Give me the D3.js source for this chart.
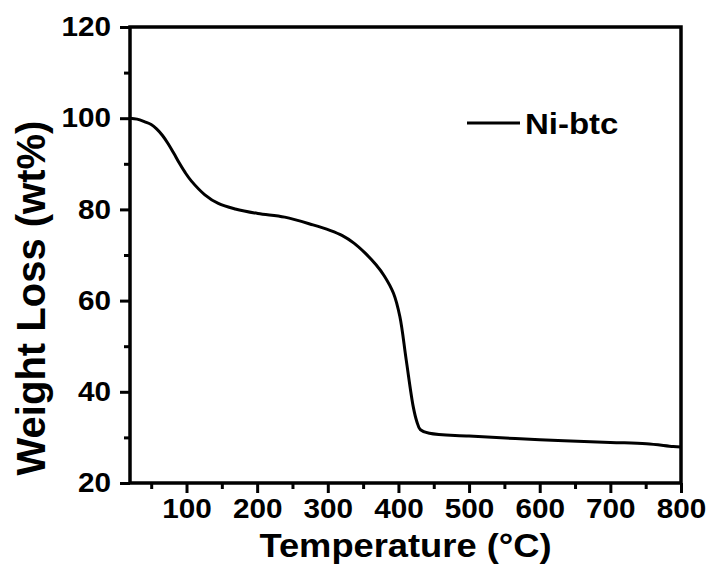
<!DOCTYPE html>
<html>
<head>
<meta charset="utf-8">
<script src="https://cdn.jsdelivr.net/npm/d3@7"></script>
<style>
  body { margin: 0; background: #fff; }
  text { font-family: "Liberation Sans", Arial, sans-serif; font-weight: bold; fill: #000; }
</style>
</head>
<body>
<div id="chart"></div>
<script>
// TGA curve of Ni-btc
const temps   = [20, 30, 41, 50, 58, 66, 74, 82, 90, 98, 107, 126, 145, 169, 201, 239, 279, 303, 320, 337, 353, 368, 380, 393, 402, 411, 421, 426, 431, 444, 500, 600, 700, 751, 789, 800];
const weights = [100, 99.8, 99.2, 98.6, 97.6, 96.2, 94.4, 92.3, 90.1, 88.1, 86.2, 83.2, 81.3, 80.1, 79.1, 78.3, 76.6, 75.4, 74.3, 72.6, 70.4, 67.9, 65.4, 61.6, 56.5, 47, 36.7, 33.5, 31.7, 30.9, 30.3, 29.5, 28.9, 28.6, 28.0, 27.9];
const xTicks = [100, 200, 300, 400, 500, 600, 700, 800];
const xMinor = [50, 150, 250, 350, 450, 550, 650, 750];
const yTicks = [20, 40, 60, 80, 100, 120];
const yMinor = [30, 50, 70, 90, 110];
const seriesName = 'Ni-btc';

const width = 715, height = 578;
const plotL = 130, plotR = 681, plotT = 27, plotB = 483;
const stretch = 1.1; // the picture is a bit wider than tall

const svg = d3.select('#chart').append('svg')
    .attr('width', width)
    .attr('height', height);

const x = d3.scaleLinear().domain([20, 800]).range([plotL, plotR]);
const y = d3.scaleLinear().domain([20, 120]).range([plotB, plotT]);

// minor ticks first
svg.append('g')
    .attr('transform', `translate(0,${plotB})`)
    .call(d3.axisBottom(x).tickValues(xMinor).tickSize(6).tickFormat(''))
    .call(g => g.select('.domain').remove())
    .selectAll('line').attr('stroke-width', 3);
svg.append('g')
    .attr('transform', `translate(${plotL},0)`)
    .call(d3.axisLeft(y).tickValues(yMinor).tickSize(6).tickFormat(''))
    .call(g => g.select('.domain').remove())
    .selectAll('line').attr('stroke-width', 3);

// major x
const gx = svg.append('g')
    .attr('transform', `translate(0,${plotB})`)
    .call(d3.axisBottom(x).tickValues(xTicks).tickSize(10).tickPadding(6))
    .call(g => g.select('.domain').remove());
gx.selectAll('line').attr('stroke-width', 3);
gx.selectAll('text')
    .attr('font-size', 27)
    .attr('font-family', '"Liberation Sans", Arial, sans-serif')
    .attr('font-weight', 'bold')
    .attr('transform', `scale(${stretch},1)`);

// major y
const gy = svg.append('g')
    .attr('transform', `translate(${plotL},0)`)
    .call(d3.axisLeft(y).tickValues(yTicks).tickSize(10))
    .call(g => g.select('.domain').remove());
gy.selectAll('line').attr('stroke-width', 3);
gy.selectAll('text')
    .attr('font-size', 27)
    .attr('font-family', '"Liberation Sans", Arial, sans-serif')
    .attr('font-weight', 'bold')
    .attr('x', -19 / stretch)
    .attr('transform', `scale(${stretch},1)`);

// frame
svg.append('rect')
    .attr('x', plotL).attr('y', plotT)
    .attr('width', plotR - plotL).attr('height', plotB - plotT)
    .attr('fill', 'none').attr('stroke', '#000').attr('stroke-width', 3.5);

// the curve
const line = d3.line()
    .x((d, i) => x(temps[i]))
    .y(d => y(d))
    .curve(d3.curveCatmullRom.alpha(0.5));
svg.append('path')
    .datum(weights)
    .attr('d', line)
    .attr('fill', 'none')
    .attr('stroke', '#000')
    .attr('stroke-width', 3);

// legend
svg.append('line')
    .attr('x1', 467).attr('x2', 520)
    .attr('y1', 123).attr('y2', 123)
    .attr('stroke', '#000').attr('stroke-width', 3);
svg.append('text')
    .attr('transform', `translate(525,134) scale(${stretch},1)`)
    .attr('font-size', 30)
    .text(seriesName);

// axis titles
svg.append('text')
    .attr('transform', `translate(${(plotL + plotR) / 2},557) scale(${stretch},1)`)
    .attr('text-anchor', 'middle')
    .attr('font-size', 33)
    .text('Temperature (°C)');
svg.append('text')
    .attr('transform', 'translate(45,298) rotate(-90)')
    .attr('text-anchor', 'middle')
    .attr('font-size', 40)
    .text('Weight Loss (wt%)');
</script>
</body>
</html>
